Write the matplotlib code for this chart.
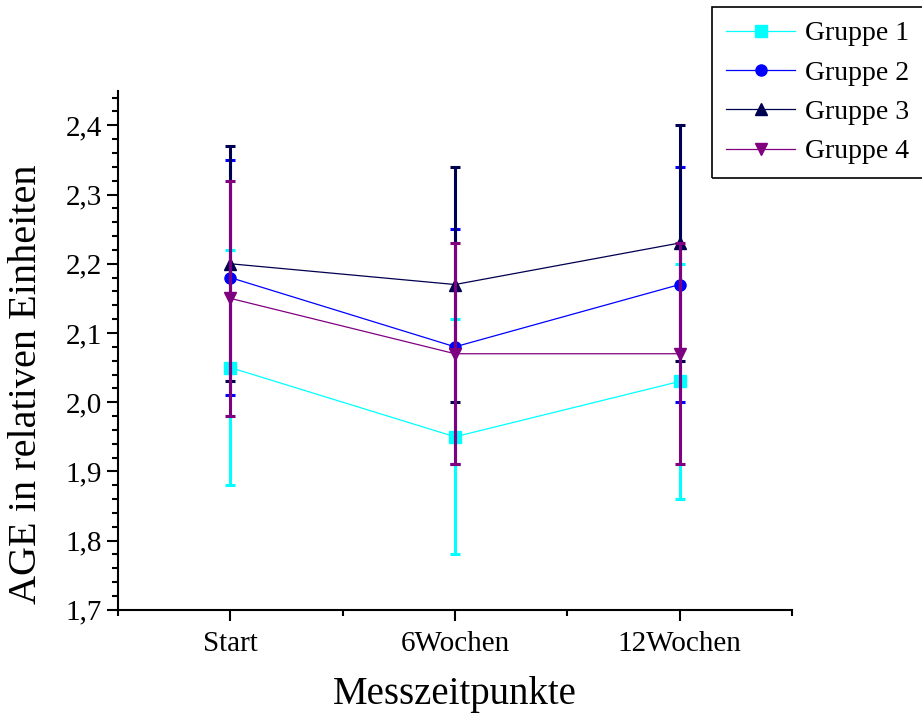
import numpy as np
import matplotlib.pyplot as plt
from matplotlib.patches import Rectangle
from matplotlib.ticker import MultipleLocator, FixedLocator, FuncFormatter

plt.rcParams['font.family'] = ['Liberation Serif', 'DejaVu Serif']

# Data
zeitpunkte = ['Start', '6Wochen', '12Wochen']
gruppen = ['Gruppe 1', 'Gruppe 2', 'Gruppe 3', 'Gruppe 4']
gruppe1 = [2.05, 1.95, 2.03]
gruppe2 = [2.18, 2.08, 2.17]
gruppe3 = [2.20, 2.17, 2.23]
gruppe4 = [2.15, 2.07, 2.07]
fehler1 = [0.17, 0.17, 0.17]
fehler2 = [0.17, 0.17, 0.17]
fehler3 = [0.17, 0.17, 0.17]
fehler4 = [0.17, 0.16, 0.16]

werte = [gruppe1, gruppe2, gruppe3, gruppe4]
fehler = [fehler1, fehler2, fehler3, fehler4]
farben = ['#00FFFF', '#0000FF', '#000050', '#800080']
marker = ['s', 'o', '^', 'v']

fig = plt.figure(figsize=(9.22, 7.2), dpi=100)
ax = fig.add_axes([0.128, 0.153, 0.731, 0.721])

x = np.arange(1, len(zeitpunkte) + 1)

for i in range(4):
    ax.plot(x, werte[i], color=farben[i], marker=marker[i], markersize=8,
            linewidth=0.9, label=gruppen[i], zorder=3)
for i in range(4):
    ax.errorbar(x, werte[i], yerr=fehler[i], fmt='none', ecolor=farben[i],
                elinewidth=2.2, capsize=3.8, capthick=2.2, zorder=4 + i)

ax.set_xlim(0.5, 3.5)
ax.set_ylim(1.7, 2.45)
ax.xaxis.set_major_locator(FixedLocator(x))
ax.set_xticklabels(zeitpunkte)
ax.xaxis.set_minor_locator(FixedLocator([0.5, 1.5, 2.5, 3.5]))
ax.yaxis.set_major_locator(MultipleLocator(0.1))
ax.yaxis.set_minor_locator(MultipleLocator(0.02))
ax.yaxis.set_major_formatter(FuncFormatter(lambda v, p: f'{v:.1f}'.replace('.', ',')))

ax.spines['top'].set_visible(False)
ax.spines['right'].set_visible(False)
for s in ['left', 'bottom']:
    ax.spines[s].set_linewidth(1.5)
ax.tick_params(which='major', direction='out', length=8, width=1.5, labelsize=21)
ax.tick_params(which='minor', direction='out', length=4, width=1.5)
ax.tick_params(axis='x', which='major', pad=7)

ax.set_xlabel('Messzeitpunkte', fontsize=28, labelpad=14)
ax.set_ylabel('AGE in relativen Einheiten', fontsize=29)
ax.yaxis.set_label_coords(-0.108, 0.434)

leg = fig.legend(loc='upper left', bbox_to_anchor=(712 / 922, 1 - 7 / 720),
                 fontsize=20, frameon=False, handlelength=2.5, borderpad=0.5,
                 labelspacing=0.5, handletextpad=0.36, borderaxespad=0)

# legend box runs off the right edge like in the original
fig.canvas.draw()
bb = leg.get_window_extent().transformed(fig.transFigure.inverted())
fig.add_artist(Rectangle((bb.x0, bb.y0), 1.05 - bb.x0, bb.height,
                         transform=fig.transFigure, fill=False,
                         edgecolor='black', linewidth=1.2, clip_on=False))

fig.savefig('out.png', dpi=100)
